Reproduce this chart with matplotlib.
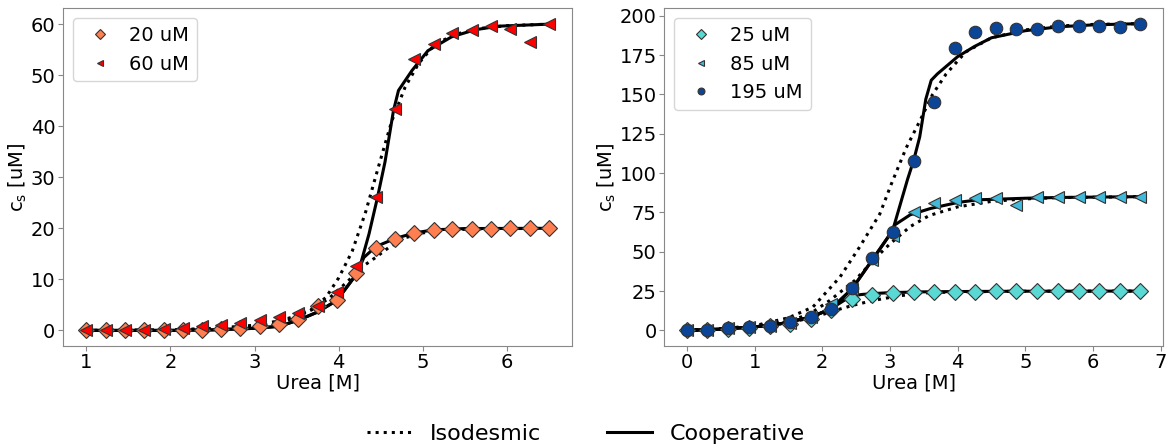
import numpy as np
import matplotlib
matplotlib.use('Agg')
from matplotlib import pyplot as plt
from matplotlib.lines import Line2D

# ---- left panel: measured points ----
urea_l = [1.0, 1.23, 1.46, 1.69, 1.92, 2.15, 2.38, 2.6, 2.83, 3.06, 3.29, 3.52, 3.75,
          3.98, 4.21, 4.44, 4.67, 4.9, 5.13, 5.35, 5.58, 5.81, 6.04, 6.27, 6.5]
cs_20 = [0, 0, 0, 0, 0, 0.05, 0.1, 0.2, 0.5, 0.8, 1.2, 2.2, 4.8,
         5.9, 11.2, 16.2, 17.9, 19.0, 19.7, 19.9, 19.9, 19.9, 20.0, 20.0, 20.0]
cs_60 = [0, 0, 0, 0.1, 0.2, 0.5, 0.8, 1.0, 1.4, 2.1, 2.6, 3.5, 4.8,
         7.5, 12.7, 26.1, 43.4, 53.2, 56.2, 58.2, 58.8, 59.7, 59.1, 56.5, 60.1]

# ---- left panel: fitted curves ----
iso20_x = [1.0, 2.0, 2.5, 3.0, 3.3, 3.5, 3.7, 3.9, 4.1, 4.3, 4.44, 4.6, 4.8, 5.0, 5.3, 5.7, 6.5]
iso20_y = [0, 0.05, 0.3, 0.8, 1.5, 2.6, 4.2, 6.5, 9.5, 12.7, 14.3, 16.3, 18.2, 19.1, 19.7, 19.9, 20.0]
iso60_x = [1.0, 2.0, 2.5, 3.0, 3.3, 3.45, 3.69, 3.85, 4.0, 4.16, 4.32, 4.48, 4.63, 4.79,
           4.95, 5.14, 5.38, 5.7, 6.0, 6.5]
iso60_y = [0, 0.1, 0.4, 1.0, 1.9, 2.6, 4.2, 6.5, 10.3, 15.5, 23.2, 32.5, 41.0, 47.7,
           52.3, 56.0, 58.0, 59.2, 59.7, 60.0]
coop20_x = [1.0, 2.0, 2.5, 3.0, 3.29, 3.52, 3.75, 3.98, 4.21, 4.3, 4.44, 4.67, 4.9, 5.13, 5.5, 6.5]
coop20_y = [0, 0, 0.1, 0.4, 0.8, 2.0, 3.6, 5.9, 11.0, 14.3, 16.4, 18.0, 19.1, 19.7, 19.95, 20.0]
coop60_x = [1.0, 2.0, 2.5, 3.0, 3.29, 3.52, 3.75, 3.98, 4.21, 4.26, 4.36, 4.46, 4.55, 4.65,
            4.71, 4.87, 5.06, 5.34, 5.62, 5.9, 6.5]
coop60_y = [0, 0, 0.1, 0.4, 0.8, 2.0, 3.6, 5.9, 11.0, 13.0, 18.9, 26.0, 33.0, 43.0,
            47.0, 50.9, 54.8, 57.5, 58.9, 59.6, 60.0]

# ---- right panel: measured points ----
urea_r = [0, 0.30, 0.61, 0.91, 1.22, 1.52, 1.83, 2.13, 2.44, 2.74, 3.05, 3.35,
          3.65, 3.96, 4.26, 4.57, 4.87, 5.18, 5.48, 5.79, 6.09, 6.40, 6.70]
cs_25 = [0, 0.3, 1.0, 1.8, 2.7, 4.3, 7.5, 13.0, 19.7, 22.6, 23.9, 24.1,
         24.5, 24.6, 24.7, 24.8, 24.8, 24.9, 24.9, 24.9, 25.0, 25.0, 25.0]
cs_85 = [0, 0.4, 1.2, 2.0, 2.9, 4.8, 8.2, 16.5, 26.0, 45.0, 60.3, 75.2,
         80.8, 83.0, 84.0, 84.2, 80.0, 84.5, 84.6, 84.7, 84.8, 84.8, 85.0]
cs_195 = [0, 0.4, 1.3, 2.1, 3.0, 5.1, 8.5, 13.8, 26.9, 46.3, 62.4, 107.9,
          145.0, 179.5, 189.6, 192.2, 191.7, 191.5, 193.4, 193.4, 193.2, 192.9, 194.7]

# ---- right panel: fitted curves ----
iso25_x = [0, 0.5, 1.0, 1.5, 1.8, 2.0, 2.2, 2.45, 2.75, 3.14, 3.5, 4.0, 5.0, 6.7]
iso25_y = [0, 0.9, 2.4, 5.0, 7.6, 10.0, 12.8, 15.9, 19.0, 22.0, 23.8, 24.5, 24.9, 25.0]
iso85_x = [0, 0.5, 1.0, 1.5, 1.8, 2.11, 2.48, 2.8, 3.0, 3.3, 3.58, 4.0, 4.5, 5.0, 5.5, 6.7]
iso85_y = [0, 1.0, 2.8, 6.0, 10.0, 19.0, 31.7, 46.6, 55.0, 66.0, 73.0, 78.5, 82.0, 83.6, 84.4, 85.0]
iso195_x = [0, 0.5, 1.0, 1.5, 1.86, 2.26, 2.55, 2.85, 3.02, 3.24, 3.44, 3.63, 3.83,
            4.12, 4.5, 5.0, 5.5, 6.0, 6.7]
iso195_y = [0, 1.0, 3.0, 8.0, 14.8, 33.8, 52.9, 74.0, 93.0, 116.0, 133.0, 150.0, 163.0,
            177.0, 186.0, 191.0, 193.5, 194.5, 195.0]
coop25_x = [0, 0.5, 1.0, 1.38, 1.84, 2.13, 2.43, 2.6, 2.8, 3.0, 3.5, 4.0, 5.0, 6.7]
coop25_y = [0, 0.8, 2.2, 4.2, 8.5, 13.8, 22.0, 22.9, 23.5, 24.0, 24.5, 24.7, 24.9, 25.0]
coop85_x = [0, 0.5, 1.0, 1.38, 1.84, 2.13, 2.44, 2.75, 3.04, 3.07, 3.3, 3.6, 4.0, 4.3,
            5.0, 5.5, 6.7]
coop85_y = [0, 0.8, 2.2, 4.2, 8.5, 13.8, 26.4, 45.5, 63.5, 67.0, 73.5, 77.5, 81.3, 83.0,
            84.0, 84.5, 85.0]
coop195_x = [0, 0.5, 1.0, 1.38, 1.84, 2.13, 2.44, 2.75, 3.04, 3.26, 3.35, 3.44, 3.53,
             3.61, 3.7, 3.85, 4.0, 4.25, 4.5, 5.0, 5.5, 6.0, 6.7]
coop195_y = [0, 0.8, 2.2, 4.2, 8.5, 13.8, 26.4, 45.5, 63.5, 96.0, 108.0, 123.0, 147.0,
             159.0, 163.0, 168.5, 174.0, 180.5, 186.0, 190.5, 193.0, 194.2, 195.0]

plt.rcParams['font.family'] = 'DejaVu Sans'
plt.rcParams['font.size'] = 14

fig = plt.figure(figsize=(11.72, 4.48), dpi=100)
ax1 = fig.add_axes([0.0538, 0.2283, 0.4345, 0.7532])
ax2 = fig.add_axes([0.5668, 0.2283, 0.4255, 0.7532])

edge = '#333333'
lw = 2.2

ax1.plot(iso20_x, iso20_y, color='black', linestyle=':', lw=lw)
ax1.plot(iso60_x, iso60_y, color='black', linestyle=':', lw=lw)
ax1.plot(coop20_x, coop20_y, color='black', lw=lw)
ax1.plot(coop60_x, coop60_y, color='black', lw=lw)
ax1.plot(urea_l, cs_20, 'D', color='coral', mec=edge, mew=0.8, ms=8.5, label='20 uM')
ax1.plot(urea_l, cs_60, '<', color='red', mec=edge, mew=0.8, ms=9, label='60 uM')

ax2.plot(iso25_x, iso25_y, color='black', linestyle=':', lw=lw)
ax2.plot(iso85_x, iso85_y, color='black', linestyle=':', lw=lw)
ax2.plot(iso195_x, iso195_y, color='black', linestyle=':', lw=lw)
ax2.plot(coop25_x, coop25_y, color='black', lw=lw)
ax2.plot(coop85_x, coop85_y, color='black', lw=lw)
ax2.plot(coop195_x, coop195_y, color='black', lw=lw)
ax2.plot(urea_r, cs_25, 'D', color='#5AD8D3', mec=edge, mew=0.8, ms=8.5, label='25 uM')
ax2.plot(urea_r, cs_85, '<', color='#41B9DA', mec=edge, mew=0.8, ms=9, label='85 uM')
ax2.plot(urea_r, cs_195, 'o', color='#0A4597', mec=edge, mew=0.8, ms=9, label='195 uM')

ax1.set_xticks([1, 2, 3, 4, 5, 6])
ax1.set_yticks([0, 10, 20, 30, 40, 50, 60])
ax2.set_xticks(range(8))
ax2.set_yticks([0, 25, 50, 75, 100, 125, 150, 175, 200])
ax2.set_xlim(-0.335, 7.035)

for ax in (ax1, ax2):
    ax.set_xlabel('Urea [M]', labelpad=1)
    ax.set_ylabel(r'c$_\mathrm{s}$ [uM]', labelpad=1)
    for s in ax.spines.values():
        s.set_color('#888888')
    ax.tick_params(color='#888888', length=3.5, pad=2)
    ax.legend(loc='upper left', markerscale=0.55, handletextpad=0.5, fontsize=14)

handles = [Line2D([], [], color='black', linestyle=':', lw=2.2),
           Line2D([], [], color='black', lw=2.2)]
fig.legend(handles, ['Isodesmic', 'Cooperative'], loc='lower center', ncol=2,
           frameon=False, fontsize=16, bbox_to_anchor=(0.5, -0.035), columnspacing=3.0)

fig.savefig('out.png', dpi=100)
